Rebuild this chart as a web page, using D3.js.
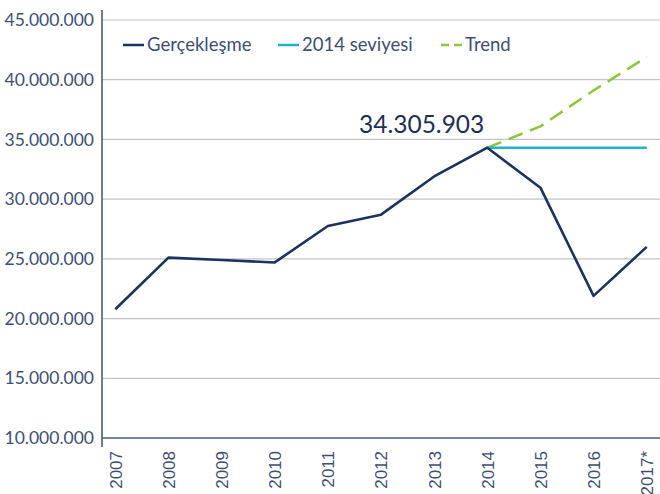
<!DOCTYPE html>
<html>
<head>
<meta charset="utf-8">
<script src="https://cdn.jsdelivr.net/npm/d3@7"></script>
<style>
  html, body { margin: 0; padding: 0; background: #fff; }
  svg { display: block; font-family: Lato, "Open Sans", sans-serif; }
</style>
</head>
<body>
<svg id="chart" width="660" height="494"></svg>
<script>
// Years on the category axis
const years = ["2007", "2008", "2009", "2010", "2011", "2012", "2013", "2014", "2015", "2016", "2017*"];
// Actual values (Gerçekleşme)
const actual = [20780000, 25100000, 24900000, 24700000, 27750000, 28700000, 31900000, 34305903, 30960000, 21900000, 26000000];
// Flat 2014 level, 2014 to 2017*
const levelYears = ["2014", "2015", "2016", "2017*"];
const level2014 = [34305903, 34305903, 34305903, 34305903];
// Trend projection, 2014 to 2017*
const trendYears = ["2014", "2015", "2016", "2017*"];
const trend = [34305903, 36100000, 39100000, 41900000];
// Y-axis ticks
const yTicks = [10000000, 15000000, 20000000, 25000000, 30000000, 35000000, 40000000, 45000000];
const annotation = "34.305.903";

const svg = d3.select("#chart");
const plotLeft = 102, plotRight = 660, plotTop = 20, plotBottom = 438;

const x = d3.scalePoint().domain(years).range([plotLeft, plotRight]).padding(0.25);
const y = d3.scaleLinear().domain([10000000, 45000000]).range([plotBottom, plotTop]);

const fmt = v => d3.format(",")(v).replace(/,/g, ".");
const textColor = "#3e4f74";

// Horizontal gridlines
svg.append("g").selectAll("line")
  .data(yTicks.filter(t => t > 10000000))
  .join("line")
  .attr("x1", plotLeft).attr("x2", plotRight)
  .attr("y1", d => y(d)).attr("y2", d => y(d))
  .attr("stroke", "#c4c4c4").attr("stroke-width", 1.2);

// Y axis
const yAxis = svg.append("g")
  .attr("transform", `translate(${plotLeft},0)`)
  .call(d3.axisLeft(y).tickValues(yTicks).tickFormat(fmt).tickSize(0).tickPadding(8));
yAxis.select(".domain").remove();
yAxis.selectAll("text")
  .attr("fill", textColor).attr("font-size", 17.5).attr("font-family", "Lato, sans-serif");
svg.append("line")
  .attr("x1", plotLeft).attr("x2", plotLeft).attr("y1", 10).attr("y2", plotBottom + 9)
  .attr("stroke", "#4a5b82").attr("stroke-width", 1.6);

// X axis
const xAxis = svg.append("g")
  .attr("transform", `translate(0,${plotBottom})`)
  .call(d3.axisBottom(x).tickSize(0).tickPadding(0));
xAxis.select(".domain").remove();
xAxis.selectAll("text")
  .attr("fill", textColor).attr("font-size", 17).attr("font-family", "'Liberation Sans', Arial, sans-serif")
  .attr("text-anchor", "end")
  .attr("dy", "0.35em")
  .attr("transform", "translate(0,13) rotate(-90)")
  .attr("x", 0).attr("y", 0);
svg.append("line")
  .attr("x1", plotLeft).attr("x2", plotRight).attr("y1", plotBottom).attr("y2", plotBottom)
  .attr("stroke", "#4a5b82").attr("stroke-width", 1.6);

const line = d3.line().x(d => x(d[0])).y(d => y(d[1]));

// Trend (dashed)
svg.append("path")
  .attr("d", line(trendYears.map((t, i) => [t, trend[i]])))
  .attr("fill", "none").attr("stroke", "#8dc63f").attr("stroke-width", 2.5)
  .attr("stroke-dasharray", "15,8");

// 2014 level
svg.append("path")
  .attr("d", line(levelYears.map((t, i) => [t, level2014[i]])))
  .attr("fill", "none").attr("stroke", "#1cb5c9").attr("stroke-width", 2.5);

// Actual values
svg.append("path")
  .attr("d", line(years.map((t, i) => [t, actual[i]])))
  .attr("fill", "none").attr("stroke", "#1b3360").attr("stroke-width", 2.6)
  .attr("stroke-linejoin", "round");

// Value annotation for 2014
svg.append("text")
  .attr("x", x("2014") - 3).attr("y", y(actual[7]) - 15)
  .attr("text-anchor", "end")
  .attr("fill", "#1e2f55").attr("font-size", 24.5)
  .text(annotation);

// Legend
const legend = [
  { label: "Gerçekleşme", color: "#1b3360", dash: null, x: 123 },
  { label: "2014 seviyesi", color: "#1cb5c9", dash: null, x: 278 },
  { label: "Trend", color: "#8dc63f", dash: "8,5", x: 441 }
];
const lg = svg.append("g");
legend.forEach(l => {
  lg.append("line")
    .attr("x1", l.x).attr("x2", l.x + 21).attr("y1", 45).attr("y2", 45)
    .attr("stroke", l.color).attr("stroke-width", 2.5)
    .attr("stroke-dasharray", l.dash);
  lg.append("text")
    .attr("x", l.x + 24).attr("y", 45).attr("dy", "0.35em")
    .attr("fill", textColor).attr("font-size", 18.5)
    .text(l.label);
});
</script>
</body>
</html>
